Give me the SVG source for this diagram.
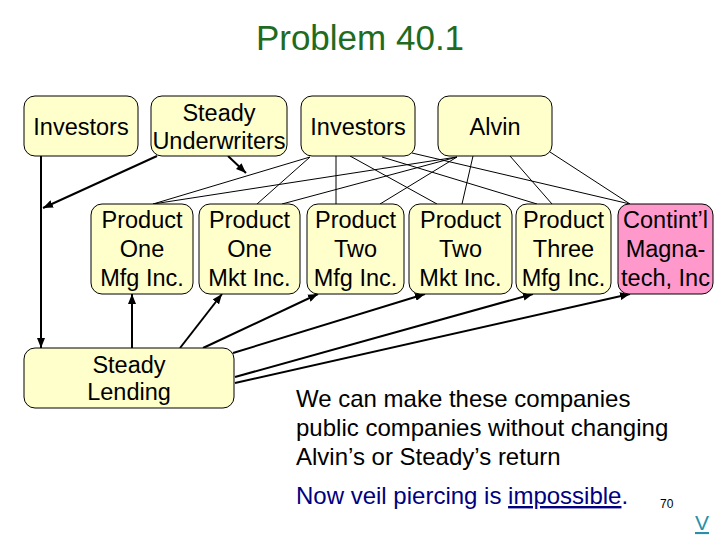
<svg xmlns="http://www.w3.org/2000/svg" width="720" height="540" viewBox="0 0 720 540">
<defs>
<style>
.box{fill:#ffffcc;stroke:#000;stroke-width:1}
.pink{fill:#ff99cc;stroke:#000;stroke-width:1}
.t{font-family:"Liberation Sans",Arial,sans-serif;font-size:23.5px;fill:#000;text-anchor:middle}
.thin{stroke:#000;stroke-width:1;fill:none}
.thick{stroke:#000;stroke-width:2;fill:none;marker-end:url(#ah)}
.body{font-family:"Liberation Sans",Arial,sans-serif;font-size:24px;fill:#000}
</style>
<marker id="ah" viewBox="0 0 10 8" refX="10" refY="4" markerWidth="10" markerHeight="8" markerUnits="userSpaceOnUse" orient="auto">
<path d="M0,0 L10,4 L0,8 z" fill="#000"/>
</marker>
</defs>
<rect width="720" height="540" fill="#fff"/>
<text x="360" y="50" font-family="'Liberation Sans',Arial,sans-serif" font-size="35" fill="#1f6b1f" text-anchor="middle">Problem 40.1</text>

<g id="connectors">
<line class="thin" x1="310" y1="157" x2="153" y2="204"/>
<line class="thin" x1="310" y1="157" x2="257" y2="204"/>
<line class="thin" x1="336" y1="156" x2="336" y2="204"/>
<line class="thin" x1="350" y1="156" x2="437" y2="204"/>
<line class="thin" x1="382" y1="157" x2="537" y2="204"/>
<line class="thin" x1="412" y1="153" x2="630" y2="204"/>
<line class="thin" x1="457" y1="157" x2="153" y2="204"/>
<line class="thin" x1="457" y1="157" x2="282" y2="204"/>
<line class="thin" x1="457" y1="157" x2="380" y2="204"/>
<line class="thin" x1="473" y1="156" x2="462" y2="204"/>
<line class="thin" x1="510" y1="156" x2="552" y2="204"/>
<line class="thin" x1="550" y1="152" x2="630" y2="204"/>
<line class="thick" x1="41" y1="156" x2="41" y2="348"/>
<line class="thick" x1="157" y1="156" x2="43" y2="208"/>
<line class="thick" x1="228" y1="156" x2="246" y2="173"/>
<line class="thick" x1="132" y1="348" x2="132" y2="294"/>
<line class="thick" x1="180" y1="348" x2="222" y2="294"/>
<line class="thick" x1="203" y1="348" x2="318" y2="294"/>
<line class="thick" x1="233" y1="353" x2="425" y2="294"/>
<line class="thick" x1="235" y1="377" x2="533" y2="294"/>
<line class="thick" x1="235" y1="383" x2="630" y2="294"/>
</g>

<g id="investors1"><rect class="box" x="24" y="96" width="114" height="60" rx="11"/><text class="t" x="81" y="135">Investors</text></g>
<g id="underwriters"><rect class="box" x="151" y="96" width="136" height="60" rx="11"/><text class="t" x="219" y="121">Steady</text><text class="t" x="219" y="149">Underwriters</text></g>
<g id="investors2"><rect class="box" x="301" y="96" width="114" height="60" rx="11"/><text class="t" x="358" y="135">Investors</text></g>
<g id="alvin"><rect class="box" x="438" y="96" width="114" height="60" rx="11"/><text class="t" x="495" y="135">Alvin</text></g>

<g id="p1mfg"><rect class="box" x="91" y="204" width="102" height="90" rx="11"/><text class="t" x="142" y="228">Product</text><text class="t" x="142" y="257">One</text><text class="t" x="142" y="286">Mfg Inc.</text></g>
<g id="p1mkt"><rect class="box" x="199" y="204" width="101" height="90" rx="11"/><text class="t" x="249.5" y="228">Product</text><text class="t" x="249.5" y="257">One</text><text class="t" x="249.5" y="286">Mkt Inc.</text></g>
<g id="p2mfg"><rect class="box" x="307" y="204" width="97" height="90" rx="11"/><text class="t" x="355.5" y="228">Product</text><text class="t" x="355.5" y="257">Two</text><text class="t" x="355.5" y="286">Mfg Inc.</text></g>
<g id="p2mkt"><rect class="box" x="409" y="204" width="103" height="90" rx="11"/><text class="t" x="460.5" y="228">Product</text><text class="t" x="460.5" y="257">Two</text><text class="t" x="460.5" y="286">Mkt Inc.</text></g>
<g id="p3mfg"><rect class="box" x="516" y="204" width="95" height="90" rx="11"/><text class="t" x="563.5" y="228">Product</text><text class="t" x="563.5" y="257">Three</text><text class="t" x="563.5" y="286">Mfg Inc.</text></g>
<g id="magnatech"><rect class="pink" x="618" y="204" width="95" height="90" rx="11"/><text class="t" x="665.5" y="228">Contint’l</text><text class="t" x="665.5" y="257">Magna-</text><text class="t" x="665.5" y="286">tech, Inc</text></g>

<g id="lending"><rect class="box" x="24" y="348" width="210" height="60" rx="11"/><text class="t" x="129" y="373">Steady</text><text class="t" x="129" y="400">Lending</text></g>

<text class="body" x="296" y="407">We can make these companies</text>
<text class="body" x="296" y="436">public companies without changing</text>
<text class="body" x="296" y="465">Alvin’s or Steady’s return</text>
<text class="body" x="296" y="504" fill="#000080" style="fill:#000080">Now veil piercing is <tspan text-decoration="underline">impossible</tspan>.</text>
<text x="660" y="508" font-family="'Liberation Sans',Arial,sans-serif" font-size="12" fill="#000">70</text>
<text x="695" y="530" font-family="'Liberation Sans',Arial,sans-serif" font-size="21" fill="#2a8fa8" text-decoration="underline">V</text>
</svg>
